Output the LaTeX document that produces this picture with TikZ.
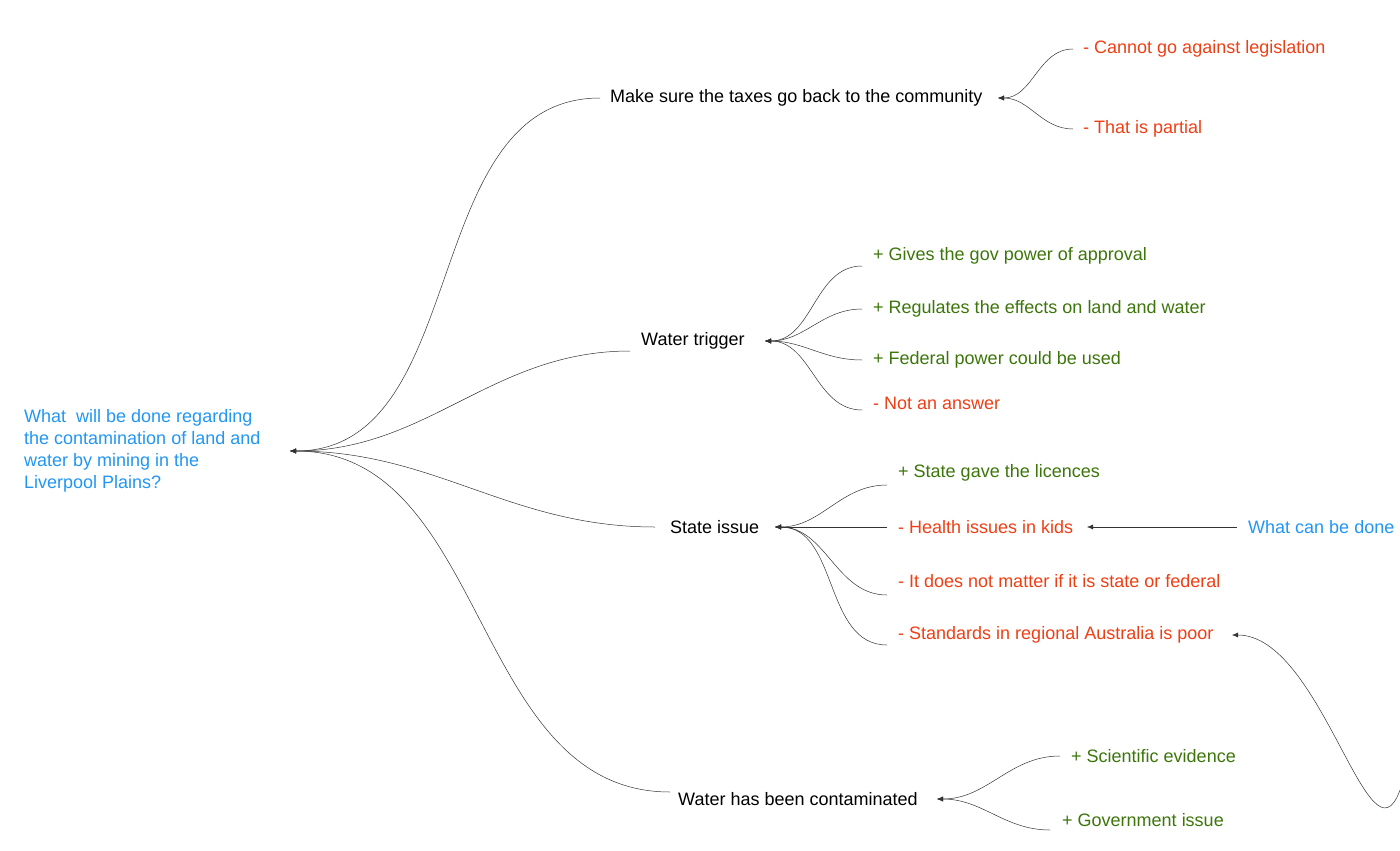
\documentclass[tikz,border=0pt]{standalone}
\usepackage{fontspec}
\setmainfont{Liberation Sans}
\usetikzlibrary{arrows.meta}
\definecolor{qblue}{RGB}{33,150,243}
\definecolor{qred}{RGB}{240,62,20}
\definecolor{qgreen}{RGB}{60,118,10}
\begin{document}
\begin{tikzpicture}[x=1pt,y=-1pt,
  t/.style={anchor=west,inner sep=0pt,font=\fontsize{18}{22}\selectfont},
  pro/.style={t,text=qgreen}, con/.style={t,text=qred},
  ln/.style={draw=black!80,line width=0.5pt,-{Latex[length=6pt,width=5pt]}},
  c/.style={ln,out=180,in=0}]
\useasboundingbox (0,0) rectangle (1400,851);
\node[t,text=qblue,anchor=north west,align=left] (root) at (24,409) {What\ \ will be done regarding\\the contamination of land and\\water by mining in the\\Liverpool Plains?};
\coordinate (rt) at (290,451);
% A
\node[t] (A) at (610,98) {Make sure the taxes go back to the community};
\coordinate (Ae) at (600,98); \coordinate (At) at (998,98);
\node[con] (A1) at (1083,49) {- Cannot go against legislation};
\node[con] (A2) at (1083,129) {- That is partial};
\coordinate (A1e) at (1073,49); \coordinate (A2e) at (1073,129);
% B
\node[t] (B) at (641,341) {Water trigger};
\coordinate (Be) at (630,351); \coordinate (Bt) at (765,341);
\node[pro] (B1) at (873,256) {+ Gives the gov power of approval};
\node[pro] (B2) at (873,309) {+ Regulates the effects on land and water};
\node[pro] (B3) at (873,360) {+ Federal power could be used};
\node[con] (B4) at (873,403) {- Not an answer};
\coordinate (B1e) at (862,266); \coordinate (B2e) at (862,309);
\coordinate (B3e) at (862,360); \coordinate (B4e) at (862,410);
% C
\node[t] (C) at (670,527) {State issue};
\coordinate (Ce) at (655,527); \coordinate (Ct) at (775,527);
\node[pro] (C1) at (898,473) {+ State gave the licences};
\node[con] (C2) at (898,527) {- Health issues in kids};
\node[con] (C3) at (898,581) {- It does not matter if it is state or federal};
\node[con] (C4) at (898,635) {- Standards in regional Australia is poor};
\coordinate (C1e) at (887,485); \coordinate (C2e) at (887,527);
\coordinate (C3e) at (887,595); \coordinate (C4e) at (887,645);
\coordinate (C2t) at (1087,527); \coordinate (C4t) at (1232,635);
\node[t,text=qblue] (E) at (1248,527) {What can be done};
\coordinate (Ee) at (1237,527);
\coordinate (F) at (1400,790);
% D
\node[t] (D) at (678,799) {Water has been contaminated};
\coordinate (De) at (670,792); \coordinate (Dt) at (937,799);
\node[pro] (D1) at (1071,756) {+ Scientific evidence};
\node[pro] (D2) at (1062,820) {+ Government issue};
\coordinate (D1e) at (1060,756); \coordinate (D2e) at (1050,830);
% connectors
\foreach \a/\b in {Ae/rt,Be/rt,Ce/rt,De/rt,A1e/At,A2e/At,B1e/Bt,B2e/Bt,B3e/Bt,B4e/Bt,C1e/Ct,C3e/Ct,C4e/Ct,D1e/Dt,D2e/Dt}
  \draw[c] (\a) to (\b);
\draw[ln] (C2e) -- (Ct);
\draw[ln] (Ee) -- (C2t);
\draw[ln] (F) to[out=250,in=0] (C4t);
\end{tikzpicture}
\end{document}
